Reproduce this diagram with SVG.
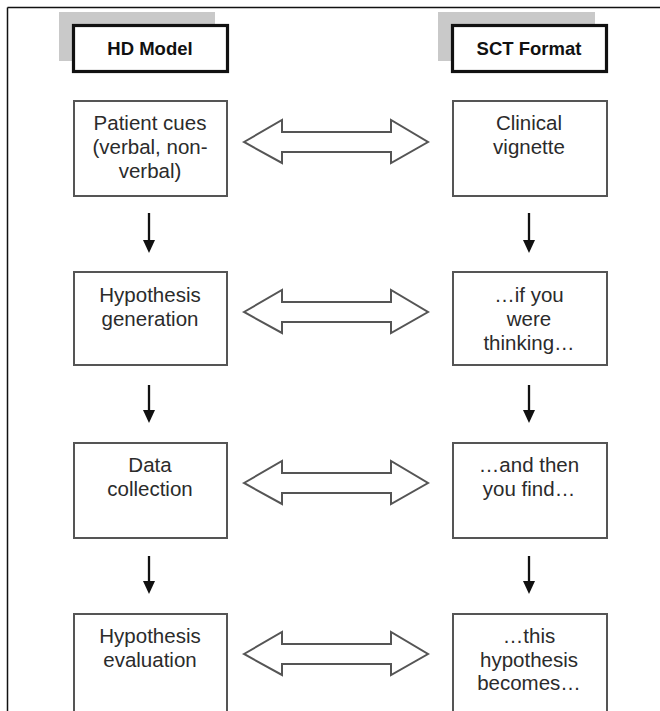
<svg xmlns="http://www.w3.org/2000/svg" width="660" height="711" viewBox="0 0 660 711">
<defs>
<style>
.box{fill:#fff;stroke:#555;stroke-width:2}
.hdr{fill:#fff;stroke:#111;stroke-width:3.2}
.shadow{fill:#c9c9c9}
.t{font-family:"Liberation Sans",Arial,Helvetica,sans-serif;font-size:20.5px;fill:#2b2b2b;text-anchor:middle}
.h{font-family:"Liberation Sans",Arial,Helvetica,sans-serif;font-size:18.5px;font-weight:bold;fill:#111;text-anchor:middle}
.dbl{fill:#fff;stroke:#555;stroke-width:2;stroke-linejoin:miter}
.v{stroke:#111;stroke-width:2.3;fill:none}
.ah{fill:#111}
</style>
</defs>
<rect width="660" height="711" fill="#fff"/>
<g id="frame">
<line x1="7.5" y1="7.5" x2="660" y2="7.5" stroke="#111" stroke-width="1.5"/>
<line x1="7.5" y1="7.5" x2="7.5" y2="711" stroke="#111" stroke-width="1.5"/>
</g>
<g id="hd-model">
<rect class="shadow" x="59" y="12" width="156" height="49"/>
<rect class="hdr" x="73.5" y="25.5" width="154" height="46"/>
<text class="h" x="150" y="54.5">HD Model</text>
</g>
<g id="sct-format">
<rect class="shadow" x="438" y="12" width="157" height="49"/>
<rect class="hdr" x="452.5" y="25.5" width="154" height="46"/>
<text class="h" x="529" y="54.5">SCT Format</text>
</g>
<g id="patient-cues">
<rect class="box" x="74" y="101" width="153" height="95"/>
<text class="t" x="150" y="130">Patient cues</text>
<text class="t" x="150" y="154">(verbal, non-</text>
<text class="t" x="150" y="178">verbal)</text>
</g>
<g id="clinical-vignette">
<rect class="box" x="453" y="101" width="154" height="95"/>
<text class="t" x="529" y="130">Clinical</text>
<text class="t" x="529" y="154">vignette</text>
</g>
<g id="hypothesis-generation">
<rect class="box" x="74" y="272" width="153" height="93"/>
<text class="t" x="150" y="302">Hypothesis</text>
<text class="t" x="150" y="326">generation</text>
</g>
<g id="if-you-were-thinking">
<rect class="box" x="453" y="272" width="154" height="93"/>
<text class="t" x="529" y="302">…if you</text>
<text class="t" x="529" y="326">were</text>
<text class="t" x="529" y="350">thinking…</text>
</g>
<g id="data-collection">
<rect class="box" x="74" y="443" width="153" height="95"/>
<text class="t" x="150" y="472">Data</text>
<text class="t" x="150" y="496">collection</text>
</g>
<g id="and-then-you-find">
<rect class="box" x="453" y="443" width="154" height="95"/>
<text class="t" x="529" y="472">…and then</text>
<text class="t" x="529" y="496">you find…</text>
</g>
<g id="hypothesis-evaluation">
<rect class="box" x="74" y="614" width="153" height="110"/>
<text class="t" x="150" y="643">Hypothesis</text>
<text class="t" x="150" y="667">evaluation</text>
</g>
<g id="this-hypothesis-becomes">
<rect class="box" x="453" y="614" width="154" height="110"/>
<text class="t" x="529" y="643">…this</text>
<text class="t" x="529" y="667">hypothesis</text>
<text class="t" x="529" y="690">becomes…</text>
</g>
<g id="connectors">
<path class="v" d="M149,213 V242"/><path class="ah" d="M143,240 H155 L149,253 Z"/>
<path class="v" d="M149,385 V412"/><path class="ah" d="M143,410 H155 L149,423 Z"/>
<path class="v" d="M149,556 V583"/><path class="ah" d="M143,581 H155 L149,594 Z"/>
<path class="v" d="M529,213 V242"/><path class="ah" d="M523,240 H535 L529,253 Z"/>
<path class="v" d="M529,385 V412"/><path class="ah" d="M523,410 H535 L529,423 Z"/>
<path class="v" d="M529,556 V583"/><path class="ah" d="M523,581 H535 L529,594 Z"/>
<polygon class="dbl" points="244,142 282,120 282,132 391,132 391,120 428,142 391,163 391,152 282,152 282,163"/>
<polygon class="dbl" points="244,312 282,290 282,302 391,302 391,290 428,312 391,333 391,322 282,322 282,333"/>
<polygon class="dbl" points="244,483 282,461 282,473 391,473 391,461 428,483 391,504 391,493 282,493 282,504"/>
<polygon class="dbl" points="244,654 282,632 282,644 391,644 391,632 428,654 391,675 391,664 282,664 282,675"/>
</g>
</svg>
